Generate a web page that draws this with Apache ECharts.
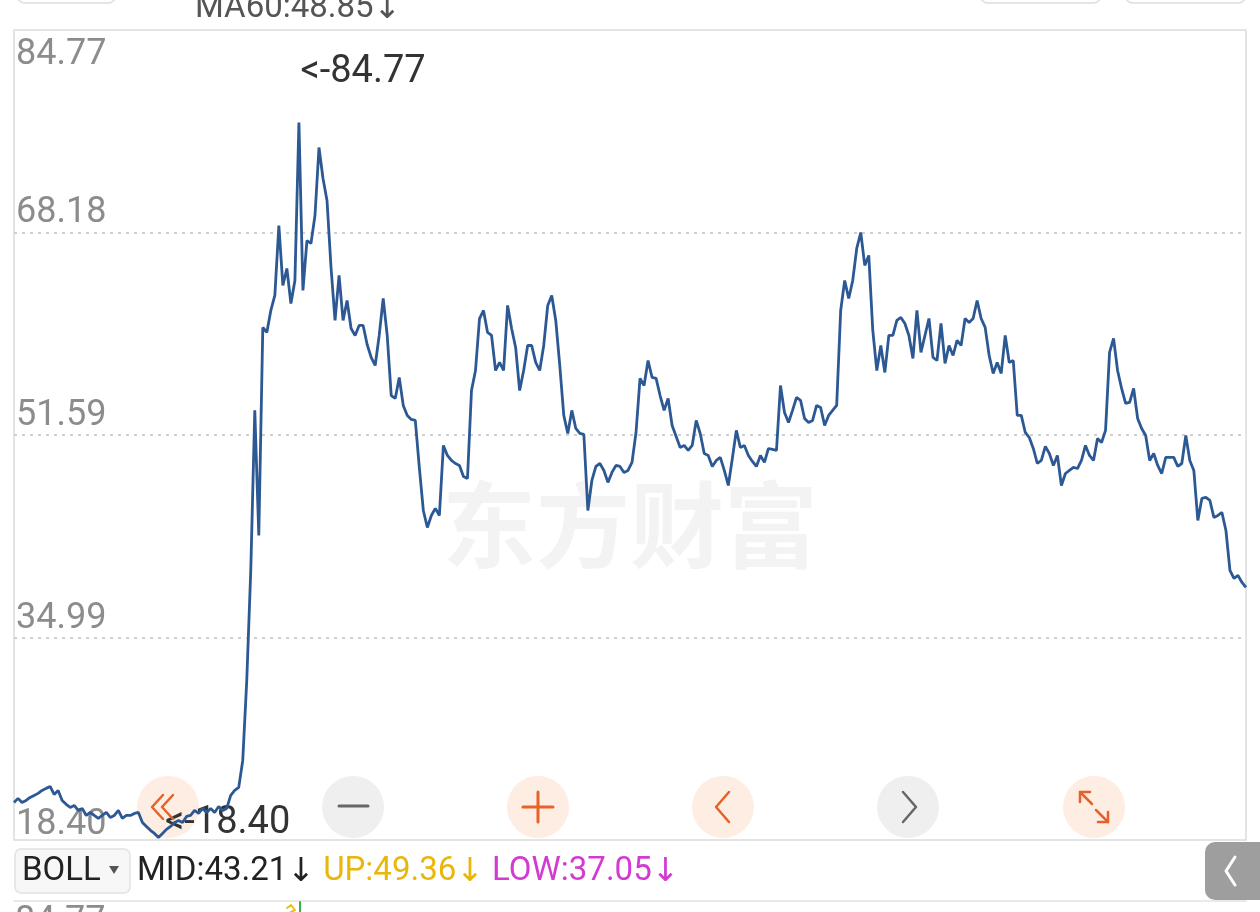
<!DOCTYPE html>
<html><head><meta charset="utf-8">
<script src="https://cdn.jsdelivr.net/npm/echarts@6/dist/echarts.min.js"></script>
<style>html,body{margin:0;padding:0;background:#fff;}#c{width:1260px;height:912px;}</style>
</head><body><div id="c"></div>
<script>
const closes = [
21.48,21.81,21.48,21.64,21.89,22.05,22.22,22.46,22.63,22.79,
22.13,22.46,21.64,21.32,21.07,21.23,20.82,20.99,20.41,20.66,
20.41,20.17,20.41,20.66,20.25,20.41,20.82,20.17,20.41,20.41,
20.58,20.66,19.84,19.51,19.19,18.94,18.61,18.94,19.27,19.51,
19.84,20.00,19.84,20.33,20.41,20.82,20.58,20.99,20.66,20.99,
20.66,21.15,20.82,20.99,22.05,22.46,22.71,24.92,31.47,40.49,
53.60,43.35,60.40,59.99,61.79,63.02,68.75,63.84,65.23,62.36,
64.25,77.19,63.43,67.52,67.28,69.57,75.14,72.60,70.80,65.31,
60.97,64.66,60.97,62.61,60.31,59.74,60.56,60.56,59.00,57.94,
57.28,59.74,62.77,59.74,54.82,54.58,56.30,54.01,53.19,52.86,
52.78,48.93,45.40,44.01,44.99,45.57,44.99,50.73,49.91,49.50,
49.25,49.09,48.19,48.02,55.23,56.87,61.13,61.79,59.99,59.74,
56.87,57.53,56.87,62.20,60.31,58.76,55.23,56.87,58.92,58.92,
57.53,56.87,58.92,62.20,63.02,60.97,57.28,53.19,51.71,53.60,
52.12,51.71,51.63,45.40,47.86,49.01,49.25,48.68,47.70,48.52,
49.09,49.01,48.52,48.68,49.34,51.79,56.22,55.64,57.69,56.30,
56.22,54.82,53.60,54.58,52.37,51.47,50.56,50.73,50.32,50.73,
52.78,51.71,50.07,49.91,49.01,49.50,49.75,48.68,47.45,49.66,
51.96,50.56,50.73,49.91,49.42,49.01,49.91,49.34,50.48,50.40,
50.32,55.64,53.43,52.61,53.60,54.66,54.42,52.94,52.61,52.78,
54.01,53.84,52.37,53.19,53.60,54.01,61.79,64.25,62.77,64.25,
66.87,68.18,65.48,66.30,60.15,56.87,58.92,56.71,59.74,59.74,
60.97,61.22,60.72,59.74,57.86,61.79,58.35,59.74,61.13,57.94,
57.69,60.72,57.45,58.92,58.10,59.33,58.92,61.13,60.81,61.13,
62.61,61.13,60.40,58.10,56.63,57.53,56.63,59.74,57.53,57.69,
53.19,53.19,51.79,51.38,50.48,49.25,49.50,50.65,50.07,49.09,
49.91,47.45,48.43,48.68,48.93,48.84,49.50,50.73,49.91,49.50,
51.30,50.97,51.96,58.35,59.50,56.87,55.40,54.17,54.25,55.40,
52.94,52.12,51.55,49.50,50.07,49.09,48.43,49.75,49.75,49.75,
49.01,49.25,51.55,49.50,48.68,44.58,46.39,46.47,46.22,44.83,
44.99,45.24,43.76,40.49,39.83,40.08,39.50,39.09
];
const tickValues = [18.40, 34.99, 51.59, 68.18, 84.77];
const tickLabels = ['18.40', '34.99', '51.59', '68.18', '84.77'];
const highPrice = 84.77;
const lowPrice = 18.40;
const maText = 'MA60:48.85';
const bollLabels = ['MID:43.21', 'UP:49.36', 'LOW:37.05'];
const bottomTick = '84.77';

const categories = closes.map((_, i) => i);
const highIndex = closes.indexOf(Math.max(...closes));
const lowIndex = closes.indexOf(Math.min(...closes));

const FONT = 'Roboto, "Noto Sans", sans-serif';
const ARROWFONT = '"DejaVu Sans", sans-serif';
const ORANGE = '#e5622a';
const GRAY = '#666666';

const markLines = tickValues.map((v, i) => {
  const last = i === tickValues.length - 1;
  const first = i === 0;
  const edge = first || last;
  return {
    yAxis: v,
    lineStyle: edge ? { color: 'rgba(0,0,0,0)', width: 0 } : {},
    label: {
      position: last ? 'insideStartBottom' : 'insideStartTop',
      formatter: tickLabels[i],
      color: '#8c8c8c',
      distance: last ? [2, 7] : (first ? [2, -3] : [2, 1])
    }
  };
});

function txt(x, y, text, size, color, extra) {
  return Object.assign({
    type: 'text', z: 20,
    style: { x: x, y: y, text: text, fontSize: size, fontFamily: FONT, fill: color,
             align: 'left', textAlign: 'left', verticalAlign: 'middle', textVerticalAlign: 'middle' }
  }, extra || {});
}
function pl(points, color, w, z) {
  return { type: 'polyline', z: z || 20, shape: { points: points },
           style: { stroke: color, lineWidth: w, fill: null, lineCap: 'round', lineJoin: 'round' } };
}
function circ(cx, cy, r, fill) {
  return { type: 'circle', z: 1, shape: { cx: cx, cy: cy, r: r }, style: { fill: fill } };
}
function rs(color, fam) {
  return { fill: color, color: color, fontSize: 33, fontFamily: fam || FONT };
}

const BY = 807;
const peach = 'rgba(250,214,192,0.45)';
const grayFill = 'rgba(205,205,205,0.32)';

const graphics = [
  { type: 'text', z: 0, style: { x: 630, y: 525, text: '东方财富', fontSize: 94, fontWeight: 'bold',
      fontFamily: '"Noto Sans CJK SC", sans-serif', fill: '#f3f3f3',
      align: 'center', textAlign: 'center', verticalAlign: 'middle', textVerticalAlign: 'middle' } },
  { type: 'rect', z: 20, shape: { x: 17, y: -40, width: 99, height: 43, r: 8 }, style: { fill: '#fff', stroke: '#dddddd', lineWidth: 1.5 } },
  { type: 'rect', z: 20, shape: { x: 980, y: -40, width: 121, height: 43, r: 8 }, style: { fill: '#fff', stroke: '#dddddd', lineWidth: 1.5 } },
  { type: 'rect', z: 20, shape: { x: 1125, y: -40, width: 121, height: 43, r: 8 }, style: { fill: '#fff', stroke: '#dddddd', lineWidth: 1.5 } },
  { type: 'text', z: 20, style: { x: 195, y: 9, text: '{a|' + maText + '}{r|↓}', fontSize: 33, fontFamily: FONT,
      align: 'left', textAlign: 'left', verticalAlign: 'middle', textVerticalAlign: 'middle',
      rich: { a: rs('#555555'), r: rs('#555555', ARROWFONT) } } },
  circ(168, BY, 31, peach),
  circ(353, BY, 31, grayFill),
  circ(538, BY, 31, peach),
  circ(723, BY, 31, peach),
  circ(908, BY, 31, grayFill),
  circ(1094, BY, 31, peach),
  pl([[163, 795], [152, 807], [163, 819]], ORANGE, 2.5),
  pl([[173, 795], [162, 807], [173, 819]], ORANGE, 2.5),
  pl([[339, 806], [368, 806]], GRAY, 3),
  pl([[523, 807], [553, 807]], ORANGE, 3),
  pl([[538, 792], [538, 822]], ORANGE, 3),
  pl([[729, 792], [716, 807], [729, 822]], ORANGE, 2.5),
  pl([[903, 792], [916, 807], [903, 822]], GRAY, 2.5),
  pl([[1080, 792], [1092, 804]], ORANGE, 2.5),
  pl([[1080, 802], [1080, 792], [1090, 792]], ORANGE, 2.5),
  pl([[1096, 810], [1108, 822]], ORANGE, 2.5),
  pl([[1098, 822], [1108, 822], [1108, 812]], ORANGE, 2.5),
  { type: 'rect', z: 20, shape: { x: 15, y: 849, width: 115, height: 44, r: 6 }, style: { fill: '#f7f7f7', stroke: '#e2e2e2', lineWidth: 1.5 } },
  txt(22, 872, 'BOLL', 33, '#222222'),
  { type: 'polygon', z: 20, shape: { points: [[109, 866], [119, 866], [114, 874]] }, style: { fill: '#555555' } },
  { type: 'text', z: 20, style: { x: 137, y: 872,
      text: '{m|' + bollLabels[0] + '}{ma|↓} {u|' + bollLabels[1] + '}{ua|↓} {l|' + bollLabels[2] + '}{la|↓}',
      fontSize: 33, fontFamily: FONT, align: 'left', textAlign: 'left', verticalAlign: 'middle', textVerticalAlign: 'middle',
      rich: { m: rs('#222222'), ma: rs('#222222', ARROWFONT),
              u: rs('#e9b70c'), ua: rs('#e9b70c', ARROWFONT),
              l: rs('#d23ad2'), la: rs('#d23ad2', ARROWFONT) } } },
  { type: 'rect', z: 20, shape: { x: 1205, y: 842, width: 70, height: 58, r: 10 }, style: { fill: '#9e9e9e' } },
  pl([[1235, 857], [1226, 871], [1235, 885]], '#ffffff', 3),
  pl([[14, 901], [1246, 901]], '#e3e3e3', 1.5),
  txt(15, 922, bottomTick, 36, '#8c8c8c'),
  pl([[300, 902], [300, 912]], '#3cb043', 2),
  pl([[287, 908], [291, 905], [295, 910], [291, 912]], '#e9c01a', 2)
];

const chart = echarts.init(document.getElementById('c'), null, { renderer: 'canvas' });
chart.setOption({
  animation: false,
  backgroundColor: '#ffffff',
  grid: { left: 14, right: 14, top: 30, bottom: 72, show: true, borderColor: '#dcdcdc', borderWidth: 1.5, backgroundColor: 'transparent' },
  xAxis: { type: 'category', data: categories, boundaryGap: false, show: false },
  yAxis: { type: 'value', min: tickValues[0], max: tickValues[tickValues.length - 1],
           axisLabel: { show: false }, splitLine: { show: false }, axisLine: { show: false }, axisTick: { show: false } },
  series: [{
    type: 'line', data: closes, symbol: 'none', z: 5,
    lineStyle: { color: '#2c5893', width: 2.8 },
    markLine: {
      silent: true, symbol: ['none', 'none'], animation: false,
      lineStyle: { type: [3, 5], color: '#cfcfcf', width: 2 },
      label: { color: '#8c8c8c', fontSize: 36, fontFamily: FONT },
      data: markLines
    },
    markPoint: {
      silent: true, animation: false, symbol: 'rect', symbolSize: 1,
      itemStyle: { color: 'rgba(0,0,0,0)' },
      label: { show: true, position: 'right', color: '#333333', fontSize: 38, fontFamily: FONT },
      data: [
        { coord: [highIndex, highPrice], value: highPrice,
          label: { formatter: '<-' + highPrice.toFixed(2), offset: [0, 42], distance: 1 } },
        { coord: [lowIndex, lowPrice], value: lowPrice,
          label: { formatter: '<-' + lowPrice.toFixed(2), offset: [0, -17], distance: 6 } }
      ]
    }
  }],
  graphic: graphics
});
</script>
</body></html>
